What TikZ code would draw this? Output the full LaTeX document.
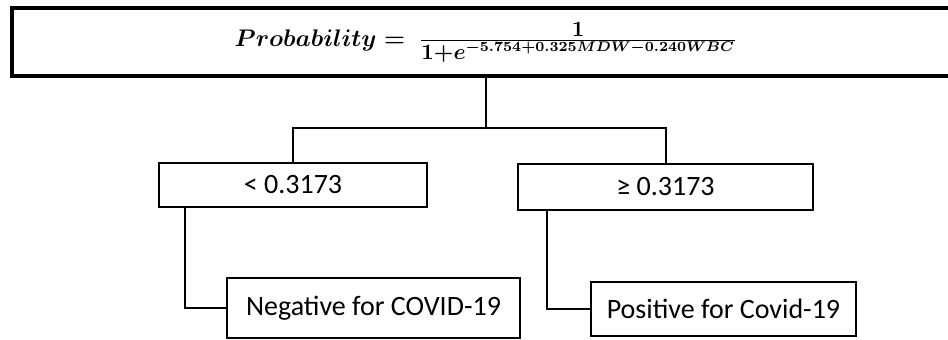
\documentclass[tikz,border=0pt]{standalone}
\usepackage{amsmath}
\usepackage[no-math]{fontspec}
\setmainfont{Carlito}
\usetikzlibrary{positioning}
\newcommand{\logiteq}{\mbox{\boldmath\fontsize{13}{16}\selectfont$Probability\mskip5mu{=}\mskip9mu\frac{\hbox{\fontsize{11}{12}\selectfont$1$}}{\hbox{\fontsize{11}{12}\selectfont$1{+}e^{\hbox{\fontsize{7.4}{9}\selectfont$-5.754{+}0.325MDW{-}0.240WBC$}}$}}$}}

\begin{document}
\begin{tikzpicture}[x=1pt, y=1pt, font=\fontsize{14}{16}\selectfont, box/.style={draw, line width=1pt, inner sep=0pt, align=center}, link/.style={line width=1pt}]
\useasboundingbox (0,0) rectangle (474,169.5);
\clip (0,0) rectangle (474,169.5);
\node[box, line width=1.6pt, minimum width=474pt, minimum height=34pt] (model) at (243,148.5) {\logiteq};
\node[box, minimum width=134pt, minimum height=22pt] (lo) at (146.5,77) {< 0.3173};
\node[box, minimum width=147.5pt, minimum height=23pt] (hi) at (332.75,76) {≥ 0.3173};
\node[box, minimum width=146.5pt, minimum height=30pt] (neg) at (186.75,15.5) {Negative for COVID-19};
\node[box, minimum width=132.5pt, minimum height=27pt] (pos) at (361.75,15) {Positive for Covid-19};
\coordinate (split) at (243,105.5);
\draw[link] (model) -- (split);
\draw[link] (split) -| (lo);
\draw[link] (split) -| (hi);
\draw[link] ([xshift=13.5pt]lo.south west) |- (neg);
\draw[link] ([xshift=15pt]hi.south west) |- (pos);
\end{tikzpicture}
\end{document}
